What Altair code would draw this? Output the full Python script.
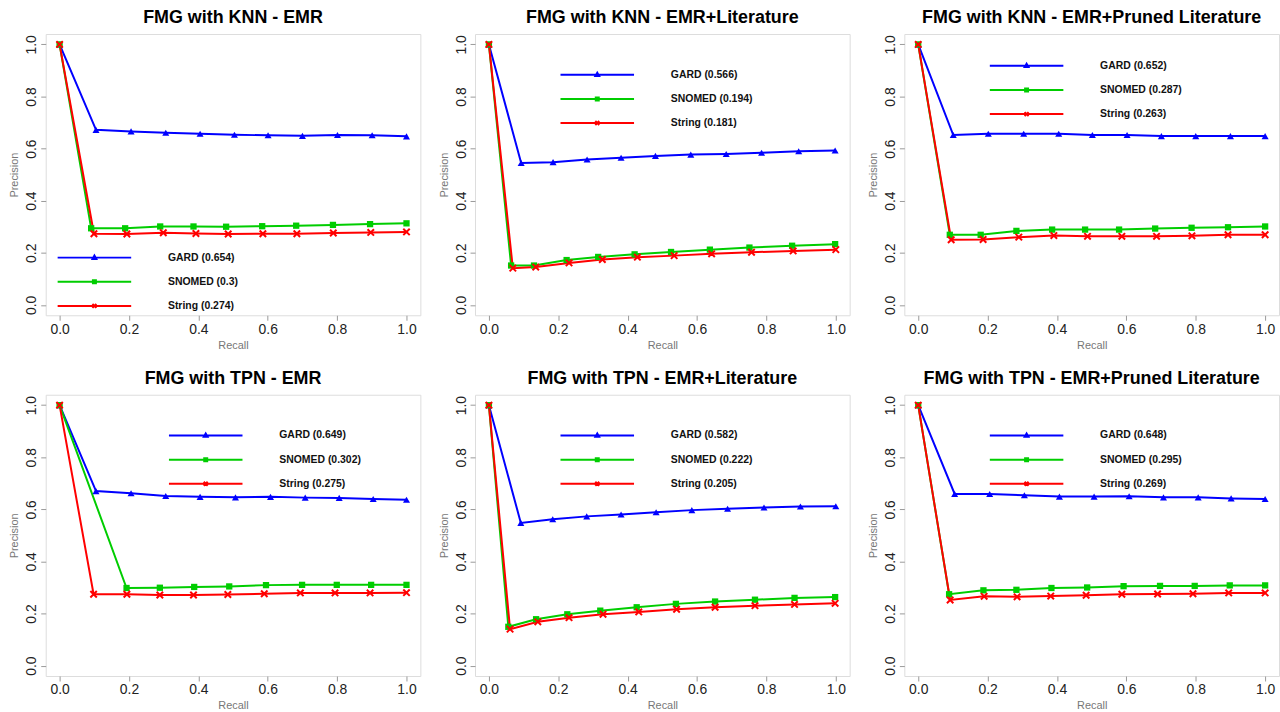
import altair as alt
import pandas as pd

SERIES = ["GARD", "SNOMED", "String"]
COLORS = ["#0000FF", "#00CD00", "#FF0000"]
TICKS = [0.0, 0.2, 0.4, 0.6, 0.8, 1.0]

# ---- Panel 1: FMG with KNN - EMR
KNN_EMR_SCORES = ["0.654", "0.3", "0.274"]
KNN_EMR_GARD_R = [0.0, 0.105, 0.206, 0.306, 0.405, 0.504, 0.601, 0.700, 0.801, 0.901, 1.0]
KNN_EMR_GARD_P = [1.0, 0.672, 0.666, 0.661, 0.657, 0.653, 0.651, 0.649, 0.652, 0.651, 0.647]
KNN_EMR_SNOMED_R = [0.0, 0.091, 0.189, 0.290, 0.386, 0.480, 0.584, 0.682, 0.788, 0.895, 1.0]
KNN_EMR_SNOMED_P = [1.0, 0.294, 0.294, 0.301, 0.301, 0.300, 0.302, 0.304, 0.307, 0.310, 0.313]
KNN_EMR_STRING_R = [0.0, 0.099, 0.194, 0.299, 0.393, 0.486, 0.586, 0.684, 0.789, 0.897, 1.0]
KNN_EMR_STRING_P = [1.0, 0.273, 0.272, 0.277, 0.274, 0.272, 0.273, 0.273, 0.276, 0.278, 0.280]

# ---- Panel 2: FMG with KNN - EMR+Literature
KNN_LIT_SCORES = ["0.566", "0.194", "0.181"]
KNN_LIT_GARD_R = [0.0, 0.093, 0.185, 0.283, 0.381, 0.480, 0.582, 0.684, 0.786, 0.893, 0.998]
KNN_LIT_GARD_P = [1.0, 0.545, 0.548, 0.558, 0.565, 0.572, 0.577, 0.579, 0.584, 0.590, 0.593]
KNN_LIT_SNOMED_R = [0.0, 0.064, 0.130, 0.224, 0.315, 0.420, 0.525, 0.637, 0.751, 0.874, 0.998]
KNN_LIT_SNOMED_P = [1.0, 0.151, 0.151, 0.172, 0.184, 0.194, 0.203, 0.212, 0.220, 0.227, 0.233]
KNN_LIT_STRING_R = [0.0, 0.069, 0.135, 0.231, 0.327, 0.428, 0.534, 0.642, 0.757, 0.877, 1.0]
KNN_LIT_STRING_P = [1.0, 0.141, 0.145, 0.161, 0.174, 0.183, 0.189, 0.196, 0.202, 0.207, 0.212]

# ---- Panel 3: FMG with KNN - EMR+Pruned Literature
KNN_PRU_SCORES = ["0.652", "0.287", "0.263"]
KNN_PRU_GARD_R = [0.0, 0.101, 0.202, 0.304, 0.405, 0.502, 0.602, 0.701, 0.800, 0.900, 1.0]
KNN_PRU_GARD_P = [1.0, 0.652, 0.657, 0.657, 0.657, 0.652, 0.652, 0.648, 0.648, 0.648, 0.648]
KNN_PRU_SNOMED_R = [0.0, 0.091, 0.180, 0.283, 0.386, 0.481, 0.579, 0.683, 0.788, 0.893, 1.0]
KNN_PRU_SNOMED_P = [1.0, 0.269, 0.269, 0.284, 0.289, 0.289, 0.289, 0.293, 0.296, 0.298, 0.301]
KNN_PRU_STRING_R = [0.0, 0.095, 0.187, 0.290, 0.391, 0.488, 0.587, 0.687, 0.789, 0.893, 1.0]
KNN_PRU_STRING_P = [1.0, 0.250, 0.251, 0.260, 0.266, 0.263, 0.263, 0.263, 0.265, 0.269, 0.269]

# ---- Panel 4: FMG with TPN - EMR
TPN_EMR_SCORES = ["0.649", "0.302", "0.275"]
TPN_EMR_GARD_R = [0.0, 0.105, 0.206, 0.306, 0.405, 0.507, 0.608, 0.708, 0.806, 0.904, 1.0]
TPN_EMR_GARD_P = [1.0, 0.670, 0.662, 0.651, 0.648, 0.646, 0.648, 0.645, 0.644, 0.640, 0.637]
TPN_EMR_SNOMED_R = [0.0, 0.193, 0.289, 0.388, 0.489, 0.595, 0.699, 0.799, 0.898, 1.0]
TPN_EMR_SNOMED_P = [1.0, 0.298, 0.299, 0.302, 0.304, 0.309, 0.310, 0.310, 0.310, 0.310]
TPN_EMR_STRING_R = [0.0, 0.098, 0.194, 0.289, 0.386, 0.485, 0.590, 0.694, 0.794, 0.895, 1.0]
TPN_EMR_STRING_P = [1.0, 0.274, 0.274, 0.271, 0.271, 0.273, 0.276, 0.279, 0.279, 0.279, 0.280]

# ---- Panel 5: FMG with TPN - EMR+Literature
TPN_LIT_SCORES = ["0.582", "0.222", "0.205"]
TPN_LIT_GARD_R = [0.0, 0.092, 0.184, 0.282, 0.381, 0.482, 0.585, 0.688, 0.793, 0.898, 1.0]
TPN_LIT_GARD_P = [1.0, 0.548, 0.562, 0.573, 0.580, 0.589, 0.597, 0.602, 0.607, 0.611, 0.612]
TPN_LIT_SNOMED_R = [0.0, 0.056, 0.136, 0.226, 0.321, 0.426, 0.539, 0.652, 0.767, 0.881, 0.998]
TPN_LIT_SNOMED_P = [1.0, 0.149, 0.178, 0.197, 0.211, 0.224, 0.237, 0.246, 0.253, 0.260, 0.263]
TPN_LIT_STRING_R = [0.0, 0.061, 0.141, 0.231, 0.329, 0.432, 0.541, 0.652, 0.767, 0.881, 0.998]
TPN_LIT_STRING_P = [1.0, 0.140, 0.168, 0.184, 0.197, 0.206, 0.216, 0.224, 0.230, 0.235, 0.239]

# ---- Panel 6: FMG with TPN - EMR+Pruned Literature
TPN_PRU_SCORES = ["0.648", "0.295", "0.269"]
TPN_PRU_GARD_R = [0.0, 0.105, 0.206, 0.306, 0.407, 0.507, 0.608, 0.707, 0.807, 0.902, 1.0]
TPN_PRU_GARD_P = [1.0, 0.659, 0.659, 0.654, 0.649, 0.649, 0.650, 0.646, 0.646, 0.642, 0.640]
TPN_PRU_SNOMED_R = [0.0, 0.089, 0.188, 0.283, 0.384, 0.487, 0.592, 0.697, 0.797, 0.898, 1.0]
TPN_PRU_SNOMED_P = [1.0, 0.274, 0.289, 0.291, 0.298, 0.300, 0.305, 0.306, 0.306, 0.308, 0.308]
TPN_PRU_STRING_R = [0.0, 0.092, 0.190, 0.285, 0.382, 0.484, 0.587, 0.690, 0.792, 0.895, 1.0]
TPN_PRU_STRING_P = [1.0, 0.252, 0.266, 0.264, 0.267, 0.270, 0.274, 0.275, 0.276, 0.279, 0.279]

# ---------------------------------------------------------------- styling
W, H = 377, 283
FONT = "Liberation Sans"
X_PATH = "M-1,-1L1,1M-1,1L1,-1"
LEGEND_SHAPES = [
    "M-7.4,0H7.4M0,-0.42L0.38,0.26L-0.38,0.26Z",
    "M-7.4,0H7.4M-0.3,-0.3H0.3V0.3H-0.3Z",
    "M-7.4,0H7.4M-0.4,-0.4L0.4,0.4M-0.4,0.4L0.4,-0.4",
]
INDEP = dict(color="independent", fill="independent", stroke="independent", shape="independent")

xscale = alt.Scale(domain=[-0.04, 1.04], nice=False, zero=False)
yscale = alt.Scale(domain=[-0.04, 1.04], nice=False, zero=False)

xaxis = alt.Axis(values=TICKS, format=".1f", title="Recall", grid=False, domain=False,
                 tickColor="#999999", tickSize=5, labelFontSize=14, labelColor="#222222",
                 labelFont=FONT, labelPadding=2, labelFlush=False, labelOverlap=False,
                 titleFont=FONT, titleFontSize=11, titleFontWeight="normal", titleColor="#777777",
                 titleY=30, titleBaseline="middle")
yaxis = alt.Axis(values=TICKS, format=".1f", title="Precision", grid=False, domain=False,
                 tickColor="#999999", tickSize=5, labelFontSize=14, labelColor="#222222",
                 labelFont=FONT, labelPadding=5, labelAngle=270, labelAlign="center",
                 labelBaseline="alphabetic", labelFlush=False, labelOverlap=False,
                 titleFont=FONT, titleFontSize=11, titleFontWeight="normal", titleColor="#777777",
                 titleAngle=270, titleX=-31, titleY=H / 2, titleAlign="center", titleBaseline="middle")


def panel(title, scores, gard, snomed, string, leg_sx, leg_row0):
    labels = [f"{s} ({v})" for s, v in zip(SERIES, scores)]
    rows = []
    for s, lab, (rs, ps) in zip(SERIES, labels, [gard, snomed, string]):
        for r, p in zip(rs, ps):
            rows.append({"series": s, "label": lab, "recall": r, "precision": p})
    df = pd.DataFrame(rows)

    x = alt.X("recall:Q", scale=xscale, axis=xaxis)
    y = alt.Y("precision:Q", scale=yscale, axis=yaxis)
    color = alt.Color("label:N", scale=alt.Scale(domain=labels, range=COLORS), legend=None)
    base = alt.Chart(df)

    lines = base.mark_line(strokeWidth=2).encode(x=x, y=y, color=color)
    tri = base.transform_filter(alt.datum.series == "GARD").mark_point(
        shape="triangle-up", filled=True, size=50, opacity=1).encode(x=x, y=y, color=color)
    sq = base.transform_filter(alt.datum.series == "SNOMED").mark_point(
        shape="square", filled=True, size=40, opacity=1).encode(x=x, y=y, color=color)
    xx = base.transform_filter(alt.datum.series == "String").mark_point(
        shape=X_PATH, filled=False, size=42, strokeWidth=2, opacity=1).encode(x=x, y=y, color=color)

    leg = alt.Legend(orient="none", legendX=leg_sx + 31, legendY=leg_row0 - 5, title=None,
                     symbolSize=100, symbolStrokeWidth=2, labelOffset=68, labelFont=FONT,
                     labelFontSize=10.5, labelFontWeight="bold", labelColor="#111111",
                     rowPadding=12.3, padding=0, symbolOpacity=1, labelLimit=300)
    legend_layer = base.transform_filter("false").mark_point(filled=True, strokeWidth=2).encode(
        fill=alt.Fill("label:N", scale=alt.Scale(domain=labels, range=COLORS), legend=leg),
        stroke=alt.Stroke("label:N", scale=alt.Scale(domain=labels, range=COLORS), legend=leg),
        shape=alt.Shape("label:N", scale=alt.Scale(domain=labels, range=LEGEND_SHAPES), legend=leg),
    )

    return alt.layer(lines, tri, sq, xx, legend_layer).properties(
        width=W, height=H,
        title=alt.Title(title, font=FONT, fontSize=18, fontWeight="bold", color="black",
                        anchor="middle", frame="group", offset=7),
    ).resolve_scale(**INDEP)


p1 = panel("FMG with KNN - EMR", KNN_EMR_SCORES,
           (KNN_EMR_GARD_R, KNN_EMR_GARD_P), (KNN_EMR_SNOMED_R, KNN_EMR_SNOMED_P),
           (KNN_EMR_STRING_R, KNN_EMR_STRING_P), 12, 224)
p2 = panel("FMG with KNN - EMR+Literature", KNN_LIT_SCORES,
           (KNN_LIT_GARD_R, KNN_LIT_GARD_P), (KNN_LIT_SNOMED_R, KNN_LIT_SNOMED_P),
           (KNN_LIT_STRING_R, KNN_LIT_STRING_P), 86, 40)
p3 = panel("FMG with KNN - EMR+Pruned Literature", KNN_PRU_SCORES,
           (KNN_PRU_GARD_R, KNN_PRU_GARD_P), (KNN_PRU_SNOMED_R, KNN_PRU_SNOMED_P),
           (KNN_PRU_STRING_R, KNN_PRU_STRING_P), 86, 31)
p4 = panel("FMG with TPN - EMR", TPN_EMR_SCORES,
           (TPN_EMR_GARD_R, TPN_EMR_GARD_P), (TPN_EMR_SNOMED_R, TPN_EMR_SNOMED_P),
           (TPN_EMR_STRING_R, TPN_EMR_STRING_P), 124, 40)
p5 = panel("FMG with TPN - EMR+Literature", TPN_LIT_SCORES,
           (TPN_LIT_GARD_R, TPN_LIT_GARD_P), (TPN_LIT_SNOMED_R, TPN_LIT_SNOMED_P),
           (TPN_LIT_STRING_R, TPN_LIT_STRING_P), 86, 40)
p6 = panel("FMG with TPN - EMR+Pruned Literature", TPN_PRU_SCORES,
           (TPN_PRU_GARD_R, TPN_PRU_GARD_P), (TPN_PRU_SNOMED_R, TPN_PRU_SNOMED_P),
           (TPN_PRU_STRING_R, TPN_PRU_STRING_P), 86, 40)

row1 = alt.hconcat(p1, p2, p3, spacing=16).resolve_scale(**INDEP)
row2 = alt.hconcat(p4, p5, p6, spacing=16).resolve_scale(**INDEP)
chart = (
    alt.vconcat(row1, row2, spacing=18)
    .resolve_scale(**INDEP)
    .properties(padding={"left": 8, "top": 6, "right": 0, "bottom": 0}, background="white")
    .configure_view(stroke="#b4b4b4", strokeWidth=1.2)
    .configure(font=FONT)
)

chart.save("out.html", embed_options={"renderer": "svg", "actions": False})
